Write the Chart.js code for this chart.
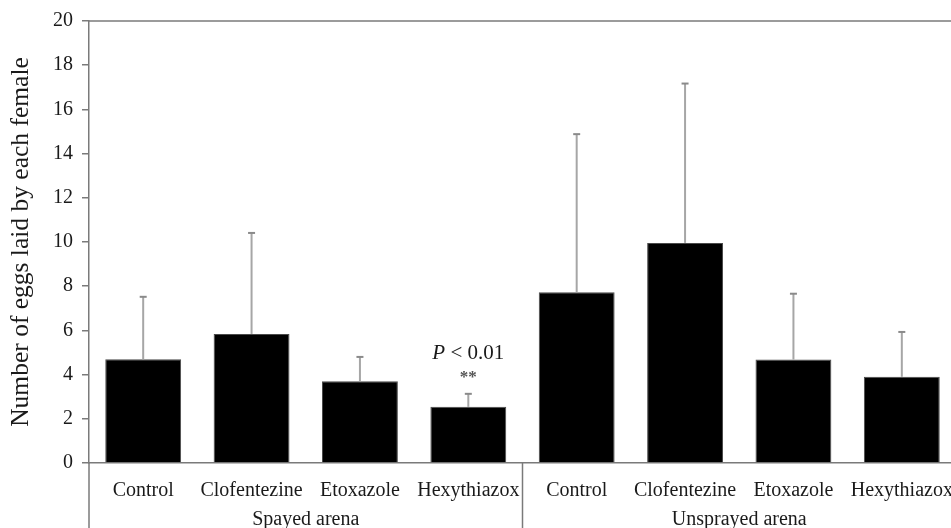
<!DOCTYPE html>
<html>
<head>
<meta charset="utf-8">
<script src="https://cdn.jsdelivr.net/npm/chart.js@4/dist/chart.umd.min.js"></script>
<style>
  html, body { margin: 0; padding: 0; background: #fff; overflow: hidden; }
  #wrap { width: 958px; height: 528px; }
</style>
</head>
<body>
<div id="wrap"><canvas id="chart" width="958" height="528"></canvas></div>
<script>
const categories = ['Control', 'Clofentezine', 'Etoxazole', 'Hexythiazox', 'Control', 'Clofentezine', 'Etoxazole', 'Hexythiazox']
const eggs = [4.69, 5.84, 3.70, 2.54, 7.73, 9.96, 4.68, 3.90]
const errors = [2.83, 4.57, 1.10, 0.59, 7.15, 7.21, 2.98, 2.03]
const groups = ['Spayed arena', 'Unsprayed arena']
const groupSize = 4
const yTicks = [0, 2, 4, 6, 8, 10, 12, 14, 16, 18, 20]
const marked = 3 // Hexythiazox, sprayed arena

const serif = '"Liberation Serif", "Times New Roman", serif'
const axisGray = '#7a7a7a'

// error bars (upward only), drawn through the chart's scales
const errorBars = {
  id: 'errorBars',
  afterDatasetsDraw(chart) {
    const { ctx, scales: { x, y } } = chart
    ctx.save()
    eggs.forEach((v, i) => {
      const px = x.getPixelForValue(i)
      const top = y.getPixelForValue(v + errors[i])
      const base = y.getPixelForValue(v)
      ctx.strokeStyle = '#a6a6a6'
      ctx.lineWidth = 2
      ctx.beginPath()
      ctx.moveTo(px, base)
      ctx.lineTo(px, top)
      ctx.stroke()
      ctx.strokeStyle = '#8a8a8a'
      ctx.beginPath()
      ctx.moveTo(px - 3.5, top)
      ctx.lineTo(px + 3.5, top)
      ctx.stroke()
    })
    ctx.restore()
  }
}

// frame, group divider, group labels and significance note
const decorations = {
  id: 'decorations',
  afterDraw(chart) {
    const { ctx, chartArea, scales: { x, y } } = chart
    const H = chart.height
    ctx.save()
    ctx.strokeStyle = axisGray
    ctx.lineWidth = 1.5

    // top frame line
    ctx.beginPath()
    ctx.moveTo(chartArea.left, chartArea.top)
    ctx.lineTo(chartArea.right, chartArea.top)
    ctx.stroke()

    // left axis running down through the label rows
    ctx.beginPath()
    ctx.moveTo(chartArea.left, chartArea.bottom)
    ctx.lineTo(chartArea.left, H)
    ctx.stroke()

    // divider between the two arenas
    const divX = (x.getPixelForValue(groupSize - 1) + x.getPixelForValue(groupSize)) / 2
    ctx.beginPath()
    ctx.moveTo(divX, chartArea.bottom)
    ctx.lineTo(divX, H)
    ctx.stroke()

    // group labels
    ctx.fillStyle = '#1a1a1a'
    ctx.font = '20px ' + serif
    ctx.textAlign = 'center'
    ctx.textBaseline = 'alphabetic'
    const edges = [chartArea.left, divX, chartArea.right]
    groups.forEach((g, i) => {
      ctx.fillText(g, (edges[i] + edges[i + 1]) / 2, H - 3)
    })

    // P < 0.01 and ** above the marked bar
    const mx = x.getPixelForValue(marked)
    const my = y.getPixelForValue(eggs[marked] + errors[marked])
    ctx.font = 'italic 21px ' + serif
    const wP = ctx.measureText('P').width
    ctx.font = '21px ' + serif
    const rest = ' < 0.01'
    const wR = ctx.measureText(rest).width
    const startX = mx - (wP + wR) / 2
    ctx.textAlign = 'left'
    ctx.font = 'italic 21px ' + serif
    ctx.fillText('P', startX, my - 35)
    ctx.font = '21px ' + serif
    ctx.fillText(rest, startX + wP, my - 35)
    ctx.textAlign = 'center'
    ctx.font = 'bold 17px ' + serif
    ctx.fillStyle = '#555'
    ctx.fillText('**', mx, my - 12)
    ctx.restore()
  }
}

new Chart(document.getElementById('chart'), {
  type: 'bar',
  data: {
    labels: categories,
    datasets: [{
      data: eggs,
      backgroundColor: '#000',
      borderColor: '#4a4a4a',
      borderWidth: 1,
      barPercentage: 0.7,
      categoryPercentage: 1
    }]
  },
  options: {
    responsive: false,
    animation: false,
    devicePixelRatio: 1,
    layout: { padding: { top: 20, right: 2, left: 0, bottom: 0 } },
    plugins: {
      legend: { display: false },
      tooltip: { enabled: false }
    },
    scales: {
      x: {
        grid: { display: false, drawTicks: false },
        border: { display: true, color: axisGray, width: 1.5 },
        ticks: {
          padding: 16,
          color: '#1a1a1a',
          font: { family: serif, size: 20 },
          maxRotation: 0,
          autoSkip: false
        },
        afterFit(scale) {
          scale.height = 65
          scale.paddingLeft = 0
          scale.paddingRight = 0
        }
      },
      y: {
        min: 0,
        max: 20,
        afterBuildTicks(scale) { scale.ticks = yTicks.map(v => ({ value: v })) },
        grid: { drawOnChartArea: false, drawTicks: true, tickLength: 7, color: axisGray, lineWidth: 1.5 },
        border: { display: true, color: axisGray, width: 1.5 },
        ticks: {
          padding: 9,
          color: '#1a1a1a',
          font: { family: serif, size: 20 }
        },
        title: {
          display: true,
          text: 'Number of eggs laid by each female',
          color: '#1a1a1a',
          font: { family: serif, size: 25.5 },
          padding: { top: 6, bottom: 0 }
        },
        afterFit(scale) { scale.width = 89 }
      }
    }
  },
  plugins: [errorBars, decorations]
})
</script>
</body>
</html>
